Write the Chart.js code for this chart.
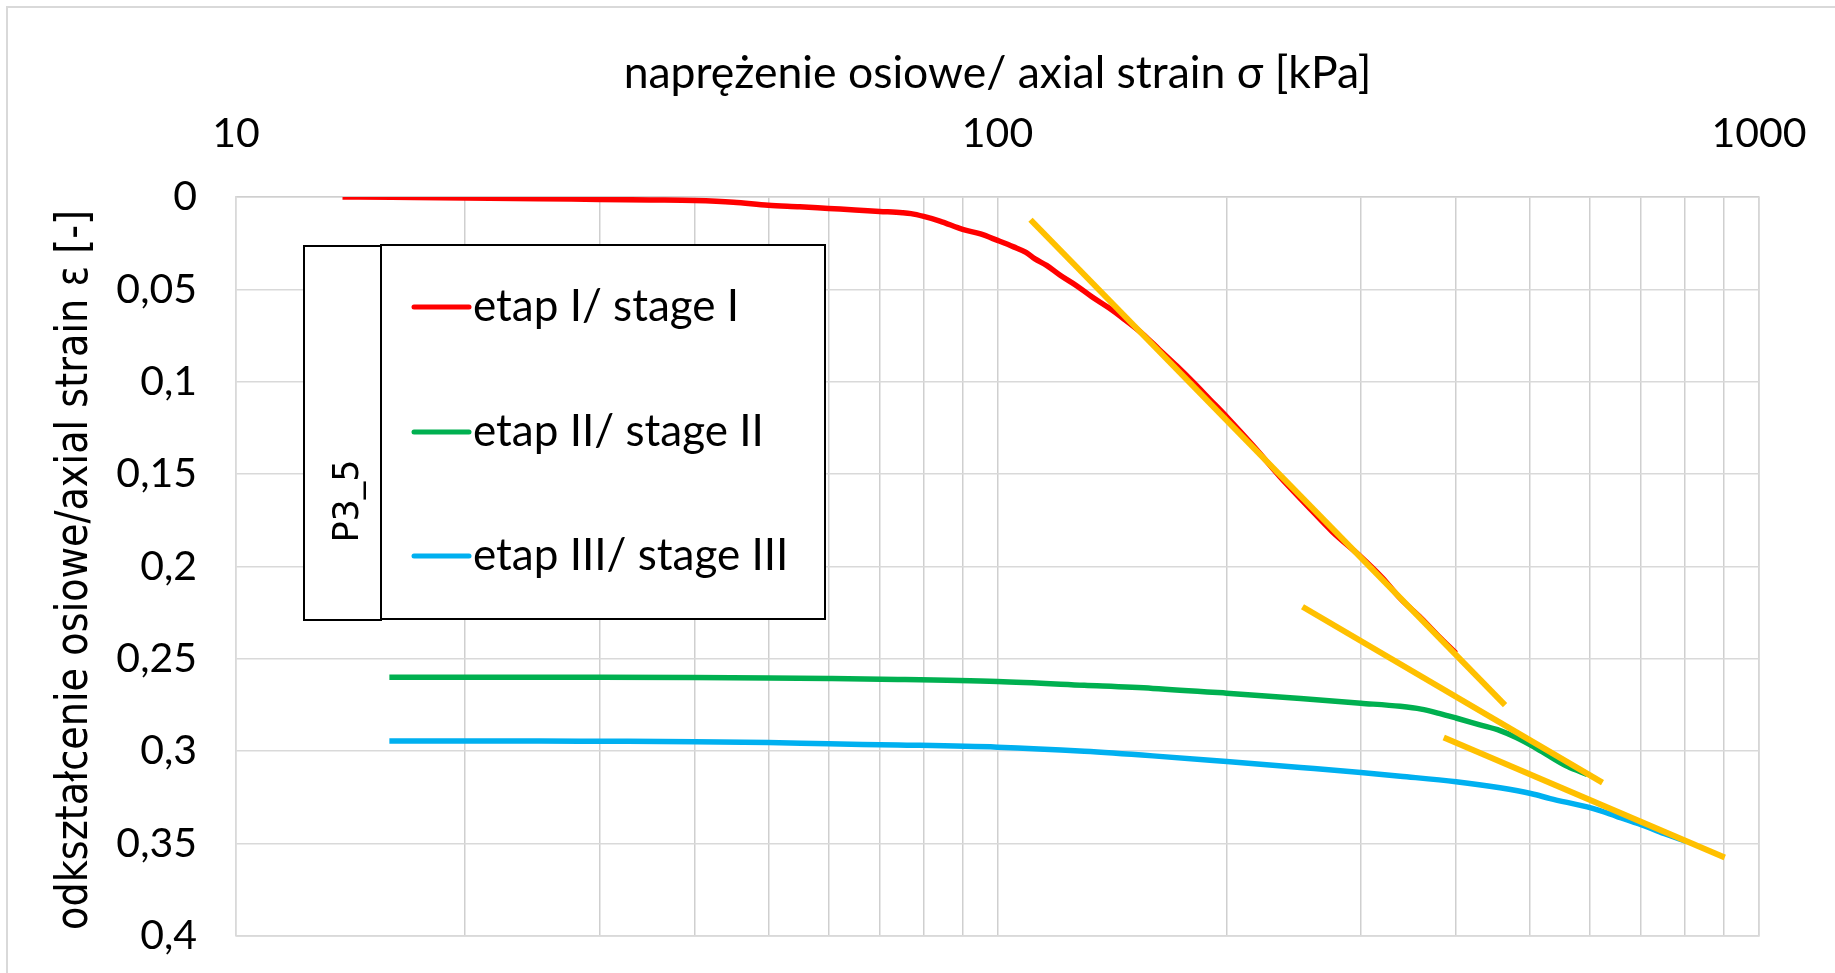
<!DOCTYPE html>
<html>
<head>
<meta charset="utf-8">
<script src="https://cdn.jsdelivr.net/npm/chart.js@4.4.1/dist/chart.umd.min.js"></script>
<style>
  html, body { margin: 0; padding: 0; background: #fff; }
  #wrap { position: relative; width: 1835px; height: 973px; }
  #frame { position: absolute; left: 6px; top: 6px; right: -10px; bottom: -10px;
           border-left: 2px solid #d9d9d9; border-top: 2px solid #d9d9d9; }
  canvas { position: absolute; left: 0; top: 0; }
</style>
</head>
<body>
<div id="wrap"><div id="frame"></div><canvas id="c" width="1835" height="973"></canvas></div>
<script>
// ---- data (sigma [kPa], strain [-]) ----
const seriesLabels = ['etap I/ stage I', 'etap II/ stage II', 'etap III/ stage III'];
const legendTitle = 'P3_5';
const xTitle = 'naprężenie osiowe/ axial strain σ [kPa]';
const yTitle = 'odkształcenie osiowe/axial strain ε [-]';

const stage1X = [13.8, 16, 20, 25, 30, 35, 40, 45, 50, 55, 60, 65, 70, 75, 77, 80, 84, 90, 95, 100, 105, 109, 112, 116, 121, 127, 133, 140, 146, 155, 163, 172, 181, 190, 200, 217, 235, 255, 275, 300, 320, 338, 360, 380, 400];
const stage1Y = [0, 0.0002, 0.0005, 0.0009, 0.0013, 0.0016, 0.0019, 0.0028, 0.0045, 0.0053, 0.0062, 0.007, 0.0078, 0.0085, 0.009, 0.0105, 0.013, 0.0175, 0.020, 0.0235, 0.027, 0.030, 0.0335, 0.037, 0.0425, 0.048, 0.054, 0.060, 0.0655, 0.074, 0.0825, 0.0915, 0.1005, 0.1095, 0.119, 0.135, 0.1515, 0.167, 0.181, 0.1947, 0.206, 0.2173, 0.228, 0.238, 0.247];

const stage2X = [15.9, 20, 25, 30, 40, 50, 60, 74, 100, 130, 160, 200, 250, 300, 338, 360, 380, 400, 430, 457, 480, 505, 530, 561, 595];
const stage2Y = [0.2600, 0.2600, 0.2600, 0.2600, 0.2601, 0.2603, 0.2606, 0.2611, 0.2623, 0.2643, 0.2660, 0.2686, 0.2715, 0.2740, 0.2757, 0.2772, 0.2795, 0.2820, 0.2857, 0.2888, 0.2925, 0.2973, 0.3025, 0.3083, 0.3125];

const stage3X = [15.9, 20, 25, 30, 40, 50, 60, 74, 100, 130, 160, 200, 250, 300, 338, 400, 457, 503, 532, 603, 650, 703, 750, 804];
const stage3Y = [0.2945, 0.2945, 0.2945, 0.2946, 0.2948, 0.2953, 0.2960, 0.2966, 0.2978, 0.3000, 0.3025, 0.3056, 0.3088, 0.3115, 0.3135, 0.3165, 0.3198, 0.3230, 0.3256, 0.3308, 0.3352, 0.3400, 0.3445, 0.3490];

// tangent lines (yellow)
const tangent1X = [110.5, 464];
const tangent1Y = [0.0123, 0.275];
const tangent2X = [251.5, 623];
const tangent2Y = [0.2218, 0.317];
const tangent3X = [385.5, 901.6];
const tangent3Y = [0.2926, 0.3575];

const xGridValues = [10, 20, 30, 40, 50, 60, 70, 80, 90, 100, 200, 300, 400, 500, 600, 700, 800, 900, 1000];
const xTickLabels = ['10', '100', '1000'];
const yTickValues = [0, 0.05, 0.1, 0.15, 0.2, 0.25, 0.3, 0.35, 0.4];

const seriesColors = ['#FF0000', '#00B050', '#00B0F0'];
const tangentColor = '#FFC000';

const pts = (xs, ys) => xs.map((x, i) => ({ x: x, y: ys[i] }));

const TICK_FONT = { family: 'Lato, "Open Sans", sans-serif', size: 41 };

const legendPlugin = {
  id: 'boxLegend',
  afterDraw(chart) {
    const ctx = chart.ctx;
    ctx.save();
    ctx.strokeStyle = '#000';
    ctx.lineWidth = 2;
    ctx.fillStyle = '#fff';
    ctx.fillRect(304, 246, 77, 374);
    ctx.strokeRect(304, 246, 77, 374);
    ctx.fillRect(381, 245, 444, 374);
    ctx.strokeRect(381, 245, 444, 374);
    // title (rotated)
    ctx.save();
    ctx.translate(358, 501);
    ctx.rotate(-Math.PI / 2);
    ctx.fillStyle = '#000';
    ctx.font = '35px "DejaVu Sans", sans-serif';
    ctx.textAlign = 'center';
    ctx.textBaseline = 'alphabetic';
    ctx.fillText(legendTitle, 0, 0);
    ctx.restore();
    // entries
    const ys = [307, 432, 556];
    ctx.font = '44px Lato, "Open Sans", sans-serif';
    ctx.textAlign = 'left';
    ctx.textBaseline = 'alphabetic';
    seriesLabels.forEach((lab, i) => {
      const ds = chart.data.datasets[i];
      ctx.strokeStyle = ds.borderColor;
      ctx.lineWidth = 5;
      ctx.lineCap = 'round';
      ctx.beginPath();
      ctx.moveTo(414, ys[i]);
      ctx.lineTo(469, ys[i]);
      ctx.stroke();
      ctx.fillStyle = '#000';
      ctx.fillText(lab, 473, ys[i] + 14);
    });
    ctx.restore();

    // y-axis title (rotated, condensed)
    ctx.save();
    ctx.font = '44px "DejaVu Sans", sans-serif';
    const w = ctx.measureText(yTitle).width;
    const k = 720 / w;
    ctx.translate(87, 570);
    ctx.rotate(-Math.PI / 2);
    ctx.scale(k, 1);
    ctx.fillStyle = '#000';
    ctx.textAlign = 'center';
    ctx.textBaseline = 'alphabetic';
    ctx.fillText(yTitle, 0, 0);
    ctx.restore();
  }
};

const curve = { borderWidth: 5.5, cubicInterpolationMode: 'monotone' };

new Chart(document.getElementById('c'), {
  type: 'line',
  data: {
    datasets: [
      Object.assign({ label: seriesLabels[0], data: pts(stage1X, stage1Y), borderColor: seriesColors[0], order: 3 }, curve),
      Object.assign({ label: seriesLabels[1], data: pts(stage2X, stage2Y), borderColor: seriesColors[1], order: 2 }, curve),
      Object.assign({ label: seriesLabels[2], data: pts(stage3X, stage3Y), borderColor: seriesColors[2], order: 1 }, curve),
      { label: 't1', data: pts(tangent1X, tangent1Y), borderColor: tangentColor, borderWidth: 6, order: 0 },
      { label: 't2', data: pts(tangent2X, tangent2Y), borderColor: tangentColor, borderWidth: 6, order: 0 },
      { label: 't3', data: pts(tangent3X, tangent3Y), borderColor: tangentColor, borderWidth: 6, order: 0 }
    ]
  },
  options: {
    responsive: false,
    animation: false,
    layout: { padding: { left: 0, top: 0, right: 76, bottom: 37 } },
    elements: {
      point: { radius: 0 },
      line: { tension: 0, fill: false, borderCapStyle: 'butt', borderJoinStyle: 'round' }
    },
    plugins: { legend: { display: false }, tooltip: { enabled: false } },
    scales: {
      x: {
        type: 'logarithmic',
        position: 'top',
        min: 10,
        max: 1000,
        afterBuildTicks(scale) { scale.ticks = xGridValues.map(v => ({ value: v })); },
        afterFit(scale) { scale.height = 197; scale.paddingLeft = 0; scale.paddingRight = 0; },
        grid: { color: '#cfcfcf', lineWidth: 1.5, drawTicks: false },
        border: { display: true, color: '#cfcfcf', width: 1.5 },
        ticks: {
          autoSkip: false,
          maxRotation: 0,
          padding: 39,
          color: '#000',
          font: TICK_FONT,
          callback(v) { const s = String(v); return xTickLabels.includes(s) ? s : ''; }
        },
        title: {
          display: true,
          text: xTitle,
          color: '#000',
          font: { family: 'Lato, "Open Sans", sans-serif', size: 44.5 },
          padding: { top: 47, bottom: 0 }
        }
      },
      y: {
        type: 'linear',
        reverse: true,
        min: 0,
        max: 0.4,
        afterBuildTicks(scale) { scale.ticks = yTickValues.map(v => ({ value: v })); },
        afterFit(scale) { scale.width = 236; scale.paddingTop = 0; scale.paddingBottom = 0; },
        grid: { color: '#d9d9d9', lineWidth: 1.5, drawTicks: false },
        border: { display: true, color: '#d9d9d9', width: 1.5 },
        ticks: {
          padding: 39,
          color: '#000',
          font: TICK_FONT,
          callback(v) { return String(+Number(v).toFixed(2)).replace('.', ','); }
        }
      }
    }
  },
  plugins: [legendPlugin, {
    id: 'rightBorder',
    afterDraw(chart) {
      const a = chart.chartArea, ctx = chart.ctx;
      ctx.save();
      ctx.strokeStyle = '#d9d9d9';
      ctx.lineWidth = 1.5;
      ctx.beginPath();
      ctx.moveTo(a.left, a.bottom); ctx.lineTo(a.right, a.bottom); ctx.lineTo(a.right, a.top);
      ctx.stroke();
      ctx.restore();
    }
  }]
});
</script>
</body>
</html>
